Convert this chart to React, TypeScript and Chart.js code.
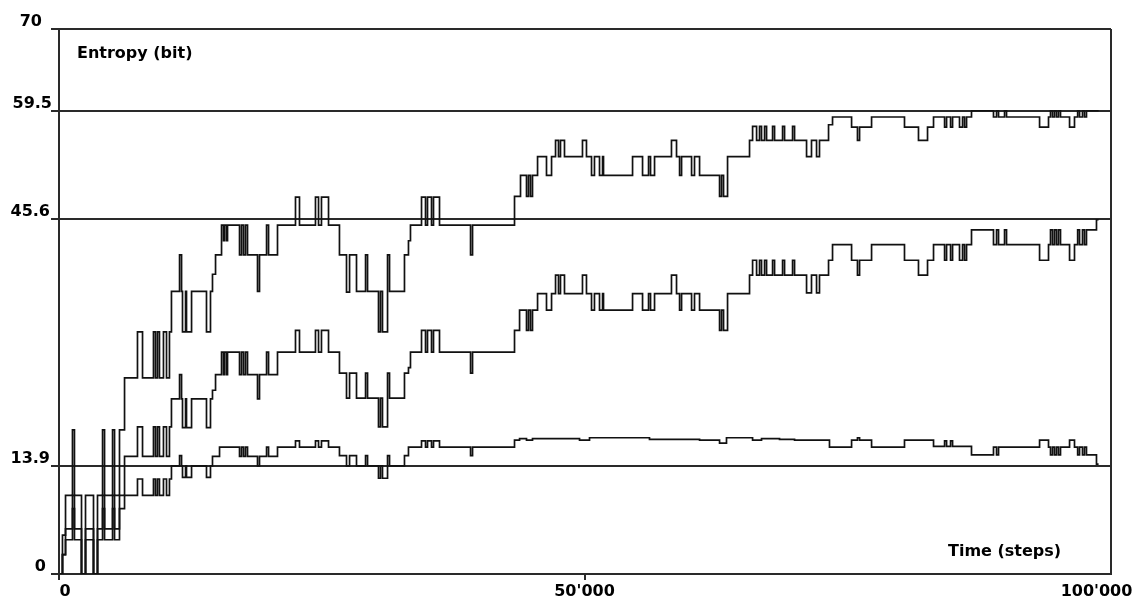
import { useEffect, useRef } from "react";
import { Chart, registerables } from "chart.js";

Chart.register(...registerables);

// ---------- data ----------
const yTickValues = [0, 13.9, 45.6, 59.5, 70];
const yTickLabels = ["0", "13.9", "45.6", "59.5", "70"];
const xTickValues = [0, 50000, 100000];
const xTickLabels = ["0", "50'000", "100'000"];
const yTitle = "Entropy (bit)";
const xTitle = "Time (steps)";

// joint entropy (top curve)
const jointSteps = [140, 330, 620, 1280, 1470, 2140, 2520, 3280, 3660, 4140, 4330, 5090, 5280, 5750, 6230, 7460, 7940, 8980, 9170, 9360, 9550, 9930, 10220, 10500, 10690, 11460, 11650, 11740, 12030, 12120, 12600, 14020, 14400, 14590, 14880, 15450, 15640, 15730, 15920, 16020, 17160, 17350, 17540, 17730, 17920, 18870, 19060, 19730, 19920, 20770, 22480, 22860, 24380, 24670, 24950, 25620, 26660, 27330, 27620, 28280, 29140, 29330, 30370, 30560, 30750, 31230, 31420, 32840, 33220, 33410, 34460, 34840, 35030, 35410, 35600, 36170, 39120, 39310, 43300, 43870, 44440, 44630, 44820, 45010, 45490, 46340, 46820, 47200, 47480, 47670, 48050, 49760, 50140, 50620, 50900, 51380, 51670, 51760, 54520, 55470, 56040, 56230, 56610, 58220, 58700, 58990, 59180, 60130, 60410, 60890, 62790, 62980, 63170, 63550, 65640, 65930, 66310, 66590, 66780, 67070, 67260, 67830, 68020, 68780, 68970, 69730, 69920, 71060, 71530, 72010, 72290, 73150, 73530, 75340, 75900, 76100, 77240, 80370, 81700, 82560, 83130, 84180, 84370, 84750, 84940, 85600, 85890, 86080, 86270, 86740, 88830, 89120, 89310, 89880, 90070, 93210, 94060, 94250, 94440, 94630, 94820, 95010, 95200, 96060, 96530, 96830, 97010, 97290, 97480, 97670, 98820];
const jointValues = [0, 5.0, 10.1, 18.5, 10.1, 0, 10.1, 0, 10.1, 18.5, 10.1, 18.5, 10.1, 18.5, 25.2, 31.1, 25.2, 31.1, 25.2, 31.1, 25.2, 31.1, 25.2, 31.1, 36.3, 41.0, 36.3, 31.1, 36.3, 31.1, 36.3, 31.1, 36.3, 38.5, 41.0, 44.8, 42.8, 44.8, 42.8, 44.8, 41.0, 44.8, 41.0, 44.8, 41.0, 36.3, 41.0, 44.8, 41.0, 44.8, 48.4, 44.8, 48.4, 44.8, 48.4, 44.8, 41.0, 36.2, 41.0, 36.3, 41.0, 36.3, 31.1, 36.3, 31.1, 41.0, 36.3, 41.0, 42.8, 44.8, 48.4, 44.8, 48.4, 44.8, 48.4, 44.8, 41.0, 44.8, 48.5, 51.2, 48.5, 51.2, 48.5, 51.2, 53.6, 51.2, 53.6, 55.7, 53.6, 55.7, 53.6, 55.7, 53.6, 51.2, 53.6, 51.2, 53.6, 51.2, 53.6, 51.2, 53.6, 51.2, 53.6, 55.7, 53.6, 51.2, 53.6, 51.2, 53.6, 51.2, 48.5, 51.2, 48.5, 53.6, 55.7, 57.5, 55.7, 57.5, 55.7, 57.5, 55.7, 57.5, 55.7, 57.5, 55.7, 57.5, 55.7, 53.6, 55.7, 53.6, 55.7, 57.7, 58.7, 57.4, 55.7, 57.4, 58.7, 57.4, 55.7, 57.4, 58.7, 57.4, 58.7, 57.4, 58.7, 57.4, 58.7, 57.4, 58.7, 59.5, 58.7, 59.5, 58.7, 59.5, 58.7, 57.4, 58.7, 59.5, 58.7, 59.5, 58.7, 59.5, 58.7, 57.4, 58.7, 59.5, 58.7, 59.5, 58.7, 59.5, 59.5];

// conditional entropy (middle curve)
const condSteps = [140, 330, 620, 1280, 1470, 2140, 2520, 3280, 3660, 4140, 4330, 5090, 5280, 5750, 6230, 7460, 7940, 8980, 9170, 9360, 9550, 9930, 10220, 10500, 10690, 11460, 11650, 11740, 12030, 12120, 12600, 14020, 14400, 14590, 14880, 15450, 15640, 15730, 15920, 16020, 17160, 17350, 17540, 17730, 17920, 18870, 19060, 19730, 19920, 20770, 22480, 22860, 24380, 24670, 24950, 25620, 26660, 27330, 27620, 28280, 29140, 29330, 30370, 30560, 30750, 31230, 31420, 32840, 33220, 33410, 34460, 34840, 35030, 35410, 35600, 36170, 39120, 39310, 43300, 43780, 44440, 44630, 44820, 45010, 45490, 46340, 46820, 47200, 47480, 47670, 48050, 49760, 50140, 50620, 50900, 51380, 51670, 51760, 54520, 55470, 56040, 56230, 56610, 58220, 58700, 58990, 59180, 60130, 60410, 60890, 62790, 62980, 63170, 63550, 65640, 65930, 66310, 66590, 66780, 67070, 67260, 67830, 68020, 68780, 68970, 69730, 69920, 71060, 71530, 72010, 72290, 73150, 73530, 75340, 75900, 76100, 77240, 80370, 81700, 82560, 83130, 84180, 84370, 84750, 84940, 85600, 85890, 86080, 86270, 86740, 88830, 89120, 89310, 89880, 90070, 93210, 94060, 94250, 94440, 94630, 94820, 95010, 95200, 96060, 96530, 96830, 97010, 97290, 97480, 97670, 98620, 98820];
const condValues = [0, 2.5, 5.8, 10.1, 5.8, 0, 5.8, 0, 5.8, 10.1, 5.8, 10.1, 5.8, 10.1, 15.1, 18.9, 15.1, 18.9, 15.1, 18.9, 15.1, 18.9, 15.1, 18.9, 22.5, 25.6, 22.5, 18.8, 22.5, 18.8, 22.5, 18.8, 22.5, 23.6, 25.6, 28.5, 25.6, 28.5, 25.6, 28.5, 25.6, 28.5, 25.6, 28.5, 25.6, 22.5, 25.6, 28.5, 25.6, 28.5, 31.3, 28.5, 31.3, 28.5, 31.3, 28.5, 25.8, 22.6, 25.8, 22.6, 25.8, 22.6, 18.9, 22.6, 18.9, 25.8, 22.6, 25.8, 26.5, 28.5, 31.3, 28.5, 31.3, 28.5, 31.3, 28.5, 25.8, 28.5, 31.3, 33.9, 31.3, 33.9, 31.3, 33.9, 36.0, 33.9, 36.0, 38.4, 36.0, 38.4, 36.0, 38.4, 36.0, 33.9, 36.0, 33.9, 36.0, 33.9, 36.0, 33.9, 36.0, 33.9, 36.0, 38.4, 36.0, 33.9, 36.0, 33.9, 36.0, 33.9, 31.3, 33.9, 31.3, 36.0, 38.4, 40.3, 38.4, 40.3, 38.4, 40.3, 38.4, 40.3, 38.4, 40.3, 38.4, 40.3, 38.4, 36.1, 38.4, 36.1, 38.4, 40.3, 42.3, 40.3, 38.4, 40.3, 42.3, 40.3, 38.4, 40.3, 42.3, 40.3, 42.3, 40.3, 42.3, 40.3, 42.3, 40.3, 42.3, 44.2, 42.3, 44.2, 42.3, 44.2, 42.3, 40.3, 42.3, 44.2, 42.3, 44.2, 42.3, 44.2, 42.3, 40.3, 42.3, 44.2, 42.3, 44.2, 42.3, 44.2, 45.5, 45.5];

// marginal entropy (bottom curve)
const margSteps = [140, 330, 620, 1280, 1470, 2140, 2520, 3280, 3660, 4140, 4330, 5090, 5280, 5750, 6230, 7460, 7940, 8980, 9170, 9360, 9550, 9930, 10220, 10500, 10690, 11460, 11650, 11740, 12030, 12120, 12600, 14020, 14400, 14590, 15260, 17160, 17350, 17540, 17730, 17920, 18870, 19060, 19730, 19920, 20770, 22480, 22860, 24380, 24670, 24950, 25620, 26660, 27330, 27620, 28280, 29140, 29330, 30370, 30560, 30750, 31230, 31420, 32840, 33220, 34460, 34840, 35030, 35410, 35600, 36170, 39120, 39310, 43300, 43780, 44440, 45010, 49480, 50430, 56130, 60890, 62790, 63450, 65930, 66780, 68490, 69920, 73240, 75340, 75900, 76100, 77240, 80370, 83130, 84180, 84370, 84750, 84940, 86740, 88830, 89120, 89310, 93210, 94060, 94250, 94440, 94630, 94820, 95010, 95200, 96060, 96530, 96830, 97010, 97290, 97480, 97670, 98620, 98820];
const margValues = [0, 2.5, 4.4, 8.4, 4.4, 0, 4.4, 0, 4.4, 8.4, 4.4, 8.4, 4.4, 8.4, 10.1, 12.2, 10.1, 12.2, 10.1, 12.2, 10.1, 12.2, 10.1, 12.2, 13.9, 15.2, 13.9, 12.4, 13.9, 12.4, 13.9, 12.4, 13.9, 15.1, 16.3, 15.1, 16.3, 15.1, 16.3, 15.1, 13.9, 15.1, 16.3, 15.1, 16.3, 17.1, 16.3, 17.1, 16.3, 17.1, 16.3, 15.2, 13.9, 15.2, 13.9, 15.2, 13.9, 12.3, 13.9, 12.3, 15.2, 13.9, 15.2, 16.3, 17.1, 16.3, 17.1, 16.3, 17.1, 16.3, 15.2, 16.3, 17.2, 17.4, 17.2, 17.4, 17.2, 17.5, 17.3, 17.2, 16.8, 17.5, 17.2, 17.4, 17.3, 17.2, 16.3, 17.2, 17.5, 17.2, 16.3, 17.2, 16.4, 17.1, 16.4, 17.1, 16.4, 15.3, 16.3, 15.3, 16.3, 17.2, 16.3, 15.3, 16.3, 15.3, 16.3, 15.3, 16.3, 17.2, 16.3, 15.3, 16.3, 15.3, 16.3, 15.3, 14.1, 14.1];

// ---------- style ----------
const FONT = '"DejaVu Sans", "Liberation Sans", sans-serif';
const LINE = "#2a2a2a";
const SERIES = "#111111";

const toPoints = (xs: number[], ys: number[]) => xs.map((x, i) => ({ x, y: ys[i] }));

const decorPlugin = {
  id: "decor",
  afterDraw(chart: any) {
    const { ctx, chartArea, scales } = chart;
    const xs = scales.x;
    const ys = scales.y;
    ctx.save();
    // right frame line
    ctx.strokeStyle = LINE;
    ctx.lineWidth = 2;
    ctx.beginPath();
    ctx.moveTo(chartArea.right, chartArea.top);
    ctx.lineTo(chartArea.right, chartArea.bottom + 1);
    ctx.stroke();
    ctx.fillStyle = "#000";
    ctx.font = `bold 16px ${FONT}`;
    ctx.textBaseline = "middle";
    // axis titles inside plot
    ctx.textAlign = "left";
    ctx.fillText(yTitle, chartArea.left + 18, chartArea.top + 25);
    ctx.fillText(xTitle, chartArea.right - 163, chartArea.bottom - 22);
    // x tick labels
    const xShifts = [6, -0.5, -14.5];
    ctx.textAlign = "center";
    xTickValues.forEach((v, i) => {
      ctx.fillText(xTickLabels[i], xs.getPixelForValue(v) + xShifts[i], chartArea.bottom + 18);
    });
    // y tick labels (right edges as in the original)
    const yShifts = [-13, -9, -9, -7, -17];
    ctx.textAlign = "right";
    yTickValues.forEach((v, i) => {
      ctx.fillText(yTickLabels[i], chartArea.left + yShifts[i], ys.getPixelForValue(v) - 7);
    });
    ctx.restore();
  },
};

export default function App() {
  const ref = useRef<HTMLCanvasElement | null>(null);

  useEffect(() => {
    if (!ref.current) return;
    const mk = (label: string, xs: number[], ys: number[]) => ({
      label,
      data: toPoints(xs, ys),
      stepped: true as const,
      borderColor: SERIES,
      borderWidth: 1.7,
      pointRadius: 0,
      fill: false,
      tension: 0,
    });
    const chart = new Chart(ref.current, {
      type: "line",
      data: {
        datasets: [
          mk("joint", jointSteps, jointValues),
          mk("conditional", condSteps, condValues),
          mk("marginal", margSteps, margValues),
        ],
      },
      options: {
        responsive: false,
        animation: false,
        devicePixelRatio: 1,
        layout: { padding: { left: 0, top: 29, right: 33, bottom: 21 } },
        plugins: { legend: { display: false }, tooltip: { enabled: false } },
        scales: {
          x: {
            type: "linear",
            min: 0,
            max: 100000,
            afterBuildTicks: (s: any) => {
              s.ticks = xTickValues.map((v) => ({ value: v }));
            },
            afterFit: (s: any) => {
              s.height = 6;
            },
            ticks: { display: false },
            grid: {
              drawOnChartArea: false,
              drawTicks: true,
              tickLength: 6,
              lineWidth: 2,
              color: (c: any) => (c.tick && c.tick.value === 100000 ? "rgba(0,0,0,0)" : LINE),
            },
            border: { display: true, color: LINE, width: 2 },
          },
          y: {
            type: "linear",
            min: 0,
            max: 70,
            afterBuildTicks: (s: any) => {
              s.ticks = yTickValues.map((v) => ({ value: v }));
            },
            afterFit: (s: any) => {
              s.width = 59;
            },
            ticks: { display: false },
            grid: { color: LINE, lineWidth: 2, tickLength: 8, drawTicks: true },
            border: { display: true, color: LINE, width: 2 },
          },
        },
      },
      plugins: [decorPlugin],
    });
    return () => chart.destroy();
  }, []);

  return (
    <div style={{ position: "fixed", left: 0, top: 0, width: 1144, height: 601, background: "#fff" }}>
      <canvas ref={ref} width={1144} height={601} style={{ display: "block" }} />
    </div>
  );
}
